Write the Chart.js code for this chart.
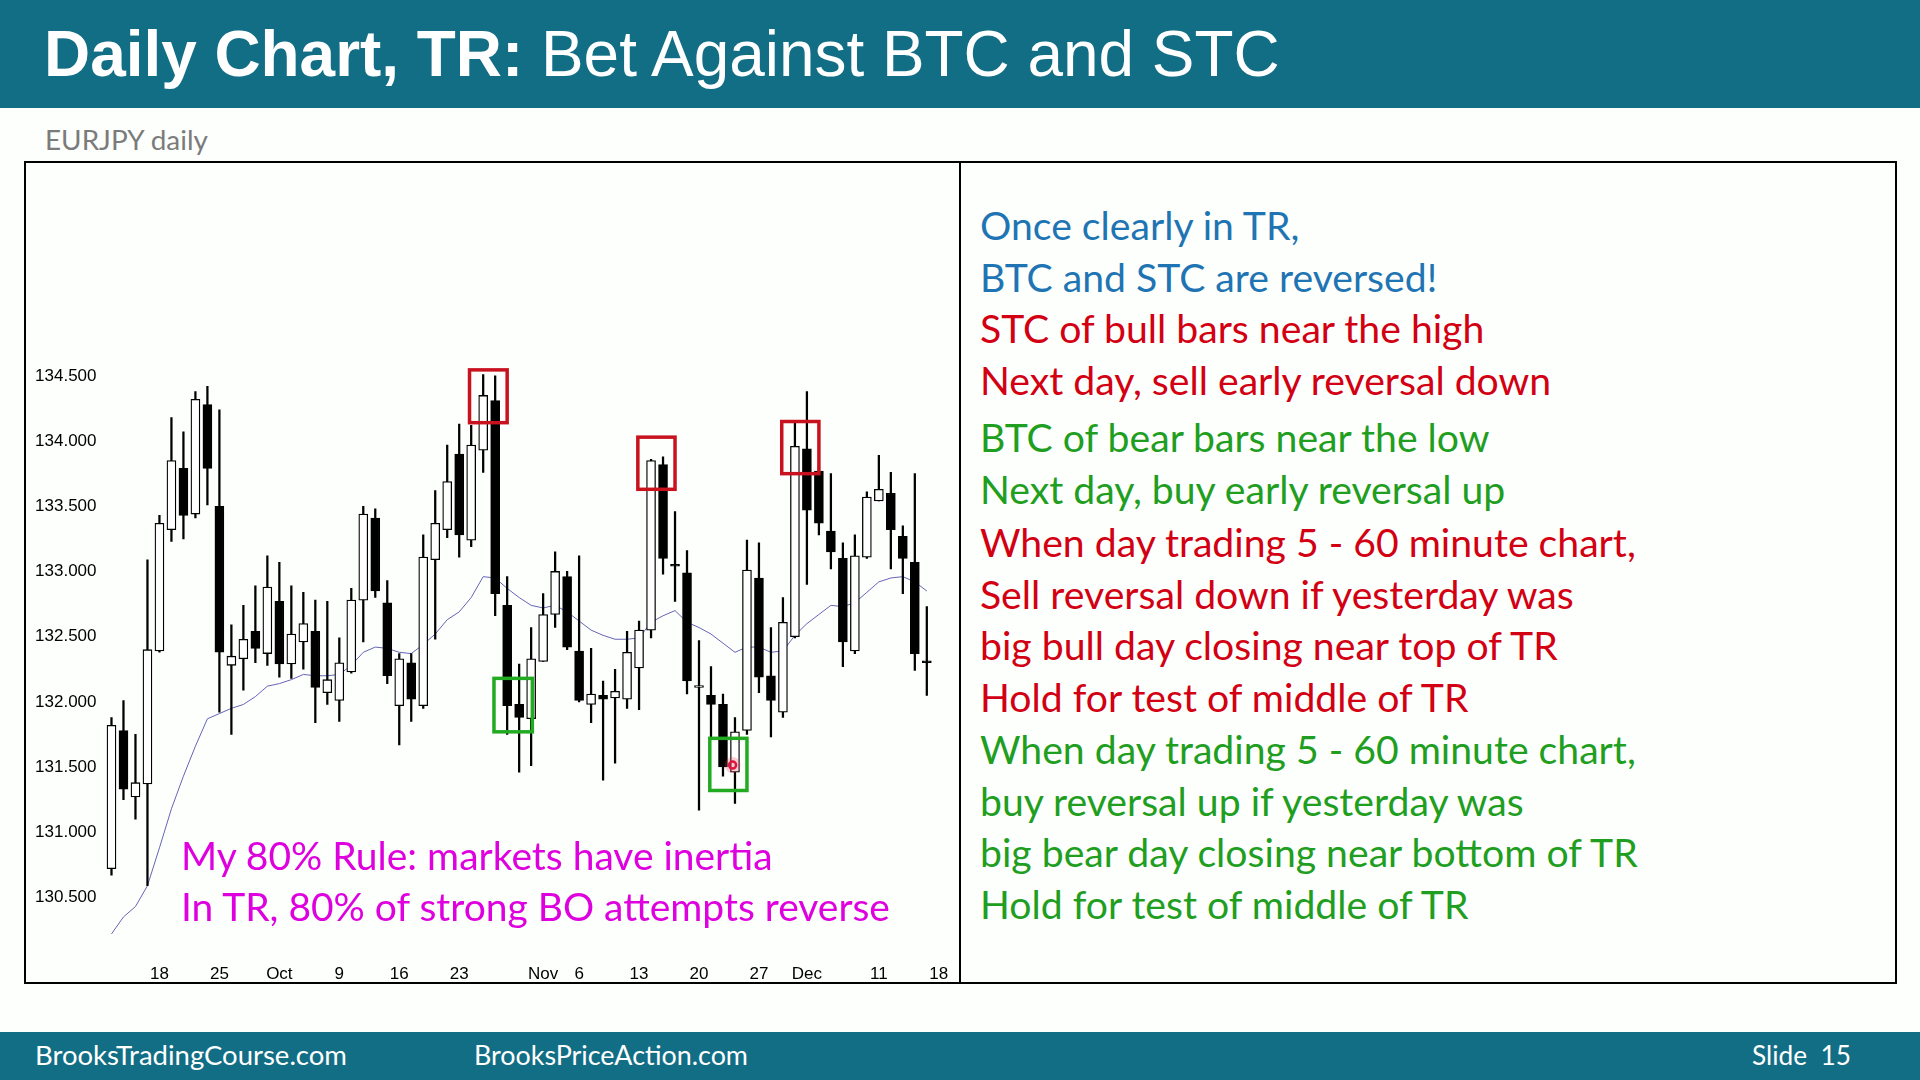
<!DOCTYPE html>
<html>
<head>
<meta charset="utf-8">
<script src="https://cdn.jsdelivr.net/npm/chart.js@4.4.0/dist/chart.umd.min.js"></script>
<style>
  html, body { margin: 0; padding: 0; }
  body { width: 1920px; height: 1080px; position: relative; overflow: hidden; background: #fdfffd; font-family: Lato, sans-serif; }
  .band { position: absolute; left: 0; width: 1920px; background: #126e85; }
  .txt { position: absolute; white-space: nowrap; line-height: 1; transform: translateY(-50%); }
  .box { position: absolute; border: 2px solid #000; box-sizing: border-box; }
  #title { left: 44px; top: 55px; color: #fff; font-family: "Liberation Sans", Arial, sans-serif; font-size: 60px; }
  #title b { font-weight: bold; }
  #sub { left: 45px; top: 140px; color: #7b7b7b; font-size: 24px; }
  #chartWrap { position: absolute; left: 26px; top: 163px; width: 933px; height: 819px; }
  .foot { color: #fff; font-size: 24px; }
  .side { font-size: 36px; left: 980px; }
  .blue { color: #1f75b3; }
  .red { color: #d20012; }
  .green { color: #1f9e1f; }
  .rule { color: #de00de; font-size: 36px; left: 181px; }
</style>
</head>
<body>
<div class="band" style="top:0;height:108px;"></div>
<span id="title" class="txt"><b>Daily Chart, TR:</b> Bet Against BTC and STC</span>
<span id="sub" class="txt">EURJPY daily</span>

<div class="box" style="left:24px;top:161px;width:937px;height:823px;"></div>
<div class="box" style="left:959px;top:161px;width:938px;height:823px;"></div>
<div id="chartWrap"><canvas id="chartEur"></canvas></div>

<span class="txt rule" id="rule1" style="top:855px;">My 80% Rule: markets have inertia</span>
<span class="txt rule" id="rule2" style="top:906px;">In TR, 80% of strong BO attempts reverse</span>

<span class="txt side blue" style="top:225px;">Once clearly in TR,</span>
<span class="txt side blue" style="top:277px;">BTC and STC are reversed!</span>
<span class="txt side red" style="top:328px;">STC of bull bars near the high</span>
<span class="txt side red" style="top:380px;">Next day, sell early reversal down</span>
<span class="txt side green" style="top:437px;">BTC of bear bars near the low</span>
<span class="txt side green" style="top:489px;">Next day, buy early reversal up</span>
<span class="txt side red" id="sideRef" style="top:542px;">When day trading 5 - 60 minute chart,</span>
<span class="txt side red" style="top:594px;">Sell reversal down if yesterday was</span>
<span class="txt side red" style="top:645px;">big bull day closing near top of TR</span>
<span class="txt side red" style="top:697px;">Hold for test of middle of TR</span>
<span class="txt side green" style="top:749px;">When day trading 5 - 60 minute chart,</span>
<span class="txt side green" style="top:801px;">buy reversal up if yesterday was</span>
<span class="txt side green" style="top:852px;">big bear day closing near bottom of TR</span>
<span class="txt side green" style="top:904px;">Hold for test of middle of TR</span>

<div class="band" style="top:1032px;height:48px;"></div>
<span class="txt foot" id="f1" style="left:35px;top:1055px;">BrooksTradingCourse.com</span>
<span class="txt foot" id="f2" style="left:474px;top:1055px;">BrooksPriceAction.com</span>
<span class="txt foot" id="f3" style="left:1752px;top:1055px;">Slide&nbsp;&nbsp;15</span>

<script>
// EURJPY daily, 12 Sep - 15 Dec (one value per bar)
const opens = [
  130.72, 131.78, 131.27, 131.37, 132.39, 133.32, 133.79, 133.44, 134.28, 133.50,
  132.28, 132.33, 132.54, 132.37, 132.77, 132.29, 132.46, 132.54, 132.07, 132.01,
  132.23, 132.78, 133.41, 132.76, 131.97, 132.30, 131.97, 133.09, 133.32, 133.90,
  133.24, 133.93, 134.31, 132.74, 131.98, 131.87, 132.31, 132.67, 132.96, 132.39,
  131.98, 132.05, 132.03, 132.02, 132.26, 132.55, 133.82, 133.045, 132.99, 132.11,
  132.05, 131.98, 131.46, 131.78, 132.95, 132.20, 131.92, 132.50, 133.94, 133.77,
  133.31, 133.10, 132.39, 133.11, 133.54, 133.60, 133.27, 133.07, 132.31
];
const highs = [
  131.88, 132.01, 131.75, 133.09, 133.43, 134.18, 134.07, 134.38, 134.42, 134.24,
  132.59, 132.74, 132.89, 133.12, 133.07, 132.89, 132.84, 132.78, 132.77, 132.49,
  132.87, 133.50, 133.48, 132.93, 132.37, 132.37, 133.28, 133.62, 133.97, 134.13,
  134.12, 134.51, 134.50, 132.96, 132.29, 132.57, 132.83, 133.15, 133.00, 133.12,
  132.41, 132.16, 132.25, 132.54, 132.62, 133.86, 133.88, 133.46, 133.16, 132.47,
  132.27, 132.06, 131.88, 133.24, 133.22, 132.57, 132.80, 134.14, 134.38, 133.80,
  133.75, 133.22, 133.28, 133.61, 133.89, 133.76, 133.35, 133.75, 132.73
];
const lows = [
  130.67, 131.25, 131.10, 130.59, 132.38, 133.23, 133.25, 133.41, 133.51, 131.92,
  131.75, 132.09, 132.30, 132.28, 132.19, 132.18, 132.25, 131.84, 131.98, 131.85,
  132.22, 132.46, 132.80, 132.14, 131.67, 131.85, 131.95, 132.48, 133.26, 133.11,
  133.19, 133.76, 132.66, 131.75, 131.46, 131.51, 132.31, 132.57, 132.40, 132.00,
  131.84, 131.40, 131.53, 131.95, 131.94, 132.49, 132.98, 132.77, 132.06, 131.17,
  131.72, 131.43, 131.22, 131.75, 132.07, 131.73, 131.88, 132.49, 132.90, 133.28,
  133.02, 132.27, 132.37, 133.10, 133.54, 133.02, 132.83, 132.24, 132.05
];
const closes = [
  131.82, 131.33, 131.38, 132.40, 133.37, 133.85, 133.43, 134.32, 133.79, 132.38,
  132.35, 132.48, 132.41, 132.88, 132.29, 132.52, 132.60, 132.11, 132.17, 132.30,
  132.78, 133.44, 132.85, 132.20, 132.33, 132.02, 133.11, 133.37, 133.69, 133.28,
  133.97, 134.35, 132.83, 131.97, 131.88, 132.33, 132.67, 133.00, 132.42, 132.01,
  132.06, 132.02, 132.08, 132.38, 132.55, 133.85, 133.10, 133.04, 132.16, 132.115,
  131.98, 131.50, 131.77, 133.01, 132.19, 132.01, 132.61, 133.96, 133.47, 133.37,
  133.15, 132.46, 133.12, 133.57, 133.63, 133.32, 133.10, 132.37, 132.30
];
// thin moving average line
const maLine = [
  130.22, 130.35, 130.43, 130.59, 130.88, 131.18, 131.43, 131.66, 131.87, 131.91,
  131.95, 131.98, 132.04, 132.12, 132.14, 132.17, 132.21, 132.20, 132.20, 132.21,
  132.28, 132.38, 132.42, 132.41, 132.38, 132.37, 132.44, 132.52, 132.63, 132.69,
  132.80, 132.96, 132.95, 132.87, 132.80, 132.74, 132.72, 132.74, 132.69, 132.62,
  132.55, 132.51, 132.48, 132.48, 132.49, 132.61, 132.66, 132.70, 132.61, 132.57,
  132.52, 132.45, 132.38, 132.42, 132.42, 132.38, 132.39, 132.51, 132.60, 132.67,
  132.74, 132.73, 132.76, 132.84, 132.92, 132.95, 132.96, 132.92, 132.85
];
const xTickIdx = [4, 9, 14, 19, 24, 29, 36, 39, 44, 49, 54, 58, 64, 69];
const xTickText = ['18', '25', 'Oct', '9', '16', '23', 'Nov', '6', '13', '20', '27', 'Dec', '11', '18'];
const yTicks = [130.5, 131, 131.5, 132, 132.5, 133, 133.5, 134, 134.5];

// highlight boxes: [firstBar, lastBar, topPrice, bottomPrice]
const sellBoxes = [[29.86, 33.0, 134.546, 134.141], [43.9, 47.0, 134.03, 133.63], [55.9, 59.0, 134.15, 133.75]];
const buyBoxes = [[31.9, 35.1, 132.18, 131.77], [49.9, 53.0, 131.72, 131.32]];
const cursorMark = [51.8, 131.515];

const bodyData = opens.map((o, i) => ({ x: i, y: [o, closes[i]] }));
const wickData = lows.map((l, i) => ({ x: i, y: [l, highs[i]] }));
const maData = maLine.map((v, i) => ({ x: i, y: v }));
const bodyFill = opens.map((o, i) => (closes[i] > o ? '#ffffff' : '#000000'));

// Cajas de anotación sobre las velas
const boxPlugin = {
  id: 'boxes',
  afterDatasetsDraw(chart) {
    const { ctx, scales } = chart;
    const sx = scales.x, sy = scales.y;
    const drawBox = (b, color) => {
      const x0 = sx.getPixelForValue(b[0]), x1 = sx.getPixelForValue(b[1]);
      const y0 = sy.getPixelForValue(b[2]), y1 = sy.getPixelForValue(b[3]);
      ctx.save();
      ctx.strokeStyle = color;
      ctx.lineWidth = 3.5;
      ctx.strokeRect(x0, y0, x1 - x0, y1 - y0);
      ctx.restore();
    };
    sellBoxes.forEach((b) => drawBox(b, '#c8121e'));
    buyBoxes.forEach((b) => drawBox(b, '#22aa22'));
    // little red cursor ring
    const cx = sx.getPixelForValue(cursorMark[0]), cy = sy.getPixelForValue(cursorMark[1]);
    ctx.save();
    ctx.fillStyle = 'rgba(230, 60, 90, 0.25)';
    ctx.beginPath(); ctx.arc(cx, cy, 8, 0, Math.PI * 2); ctx.fill();
    ctx.strokeStyle = '#e0143c';
    ctx.lineWidth = 2.5;
    ctx.beginPath(); ctx.arc(cx, cy, 3.5, 0, Math.PI * 2); ctx.stroke();
    ctx.restore();
  }
};

new Chart(document.getElementById('chartEur'), {
  type: 'bar',
  data: {
    datasets: [
      {
        type: 'bar',
        data: bodyData,
        backgroundColor: bodyFill,
        borderColor: '#000',
        borderWidth: 1.3,
        borderSkipped: false,
        barThickness: 9,
        minBarLength: 2,
        grouped: false
      },
      {
        type: 'bar',
        data: wickData,
        backgroundColor: '#000',
        borderWidth: 0,
        barThickness: 1.6,
        grouped: false
      },
      {
        type: 'line',
        data: maData,
        borderColor: '#6464b4',
        borderWidth: 1,
        pointRadius: 0,
        tension: 0
      }
    ]
  },
  options: {
    responsive: true,
    maintainAspectRatio: false,
    animation: false,
    layout: { padding: { top: 17.3, right: 14.2, left: 0, bottom: 0 } },
    plugins: { legend: { display: false }, tooltip: { enabled: false } },
    scales: {
      x: {
        type: 'linear',
        offset: false,
        min: -1,
        max: 69.5,
        grid: { display: false, drawTicks: false, offset: false },
        border: { display: false },
        afterFit: (s) => { s.height = 19.4; },
        afterBuildTicks: (s) => { s.ticks = xTickIdx.map((v) => ({ value: v })); },
        ticks: {
          autoSkip: false,
          maxRotation: 0,
          padding: 1.6,
          color: '#000',
          font: { family: 'Liberation Sans', size: 17 },
          callback: (v) => xTickText[xTickIdx.indexOf(v)]
        }
      },
      y: {
        min: 130,
        max: 136,
        grid: { display: false, drawTicks: false },
        border: { display: false },
        afterFit: (s) => { s.width = 73.5; },
        afterBuildTicks: (s) => { s.ticks = yTicks.map((v) => ({ value: v })); },
        ticks: {
          padding: 3,
          color: '#000',
          font: { family: 'Liberation Sans', size: 17 },
          callback: (v) => v.toFixed(3)
        }
      }
    }
  },
  plugins: [boxPlugin]
});

// ajustar tamaños de texto al ancho medido en la diapositiva
function fitTo(el, target) {
  const w = el.getBoundingClientRect().width;
  const fs = parseFloat(getComputedStyle(el).fontSize);
  return fs * target / w;
}
document.getElementById('title').style.fontSize = fitTo(document.getElementById('title'), 1236) + 'px';
document.getElementById('sub').style.fontSize = fitTo(document.getElementById('sub'), 163) + 'px';
const sideSize = fitTo(document.getElementById('sideRef'), 656);
document.querySelectorAll('.side').forEach((el) => { el.style.fontSize = sideSize + 'px'; });
const ruleSize = fitTo(document.getElementById('rule2'), 709);
document.querySelectorAll('.rule').forEach((el) => { el.style.fontSize = ruleSize + 'px'; });
document.getElementById('f1').style.fontSize = fitTo(document.getElementById('f1'), 312) + 'px';
document.getElementById('f2').style.fontSize = fitTo(document.getElementById('f2'), 274) + 'px';
document.getElementById('f3').style.fontSize = fitTo(document.getElementById('f3'), 99) + 'px';
</script>
</body>
</html>
